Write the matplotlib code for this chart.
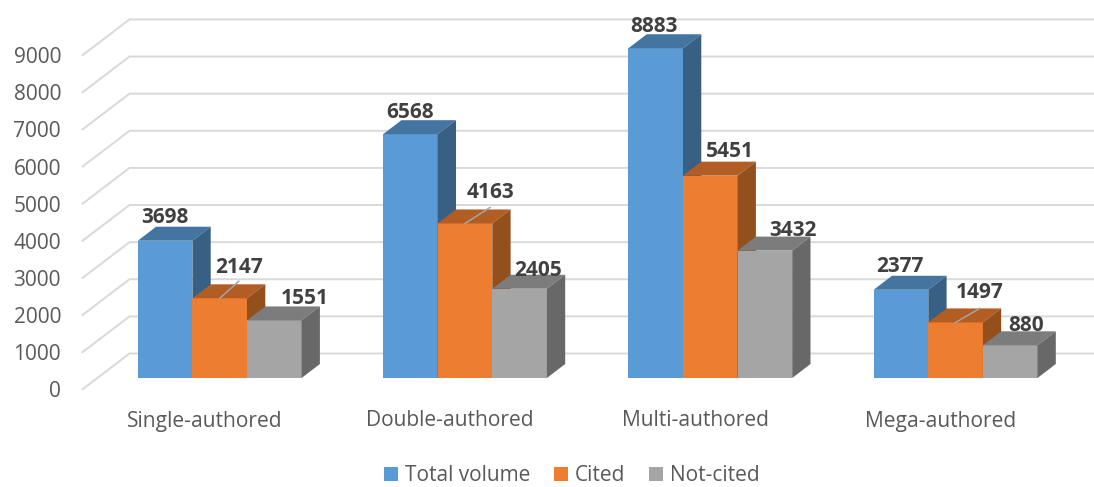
import matplotlib
matplotlib.use("Agg")
import matplotlib.pyplot as plt

categories = ["Single-authored", "Double-authored", "Multi-authored", "Mega-authored"]
total_volume = [3698, 6568, 8883, 2377]
cited = [2147, 4163, 5451, 1497]
not_cited = [1551, 2405, 3432, 880]
series_names = ["Total volume", "Cited", "Not-cited"]
y_ticks = [0, 1000, 2000, 3000, 4000, 5000, 6000, 7000, 8000, 9000]

# front, top, side shades for each series
front_colors = ["#5B9BD5", "#ED7D31", "#A5A5A5"]
top_colors = ["#4474A0", "#B25D24", "#7C7C7C"]
side_colors = ["#386084", "#934F1C", "#686868"]

# label offsets from the top of the bar front, in pixels
label_dx = [[0, 0, -2, -1], [19, 25, 20, 24], [30, 18, 28, 16]]
label_dy = [[23, 22, 22, 23], [31, 31, 24, 30], [22, 18, 20, 20]]
leader_dy = [17, 16, 0, 14]

plt.rcParams['font.family'] = ['Open Sans', 'DejaVu Sans']

PX_X = 245.3
PX_Y = 0.03712
fig = plt.figure(figsize=(10.94, 4.87), dpi=100)
ax = fig.add_axes([0, 0, 1, 1])
ax.set_xlim((0 - 219.7) / PX_X, (1094 - 219.7) / PX_X)
ax.set_ylim((378 - 487) / PX_Y, 378 / PX_Y)
ax.axis('off')

bar_w = 54.6 / PX_X
depth_x = 18.3 / PX_X
depth_y = 14 / PX_Y
wall_x = 47 / PX_X
x_left = (82.5 - 219.7) / PX_X
x_back = x_left + wall_x
x_right = (1094 - 219.7) / PX_X
front_y = -11.3 / PX_Y

# back wall and side wall gridlines
for t in y_ticks:
    ax.plot([x_left, x_back, x_right], [t + front_y, t + front_y + 35.8 / PX_Y, t + front_y + 35.8 / PX_Y],
            color="#D9D9D9", lw=1.4, zorder=1, solid_joinstyle='miter')
    ax.text((61 - 219.7) / PX_X, t + front_y - 2.5 / PX_Y, str(t), ha='right', va='center',
            color="#595959", fontsize=15)

handles = []
for s, values in enumerate([total_volume, cited, not_cited]):
    xs = [c + (s - 1) * bar_w for c in range(len(categories))]
    bars = ax.bar(xs, values, width=bar_w, color=front_colors[s], label=series_names[s], zorder=3 + s)
    handles.append(bars)
    for x, v in zip(xs, values):
        l = x - bar_w / 2
        r = x + bar_w / 2
        ax.fill([l, r, r + depth_x, l + depth_x], [v, v, v + depth_y, v + depth_y],
                color=top_colors[s], lw=0, zorder=3 + s)
        ax.fill([r, r + depth_x, r + depth_x, r], [0, depth_y, v + depth_y, v],
                color=side_colors[s], lw=0, zorder=3 + s)

# data labels, Cited has thin leader lines except the tallest bar
for s, values in enumerate([total_volume, cited, not_cited]):
    for c, v in enumerate(values):
        x = c + (s - 1) * bar_w
        ax.annotate(str(v), (x, v), xytext=(label_dx[s][c], label_dy[s][c]), textcoords='offset pixels',
                    ha='center', va='center', fontsize=15, fontweight='bold', color="#404040", zorder=10)
        if s == 1 and c != 2:
            ax.plot([x, x + label_dx[s][c] / PX_X], [v, v + leader_dy[c] / PX_Y], color="#A5A5A5", lw=1.1, zorder=9)

for c, name in enumerate(categories):
    ax.text(c - 15 / PX_X, -43 / PX_Y, name, ha='center', va='center', color="#595959", fontsize=15.1)

ax.legend(handles=handles, loc='center', bbox_to_anchor=(572 / 1094, 1 - 475.5 / 487), ncol=3, frameon=False,
          fontsize=15, labelcolor="#595959", handlelength=0.65, handleheight=0.65, handletextpad=0.35,
          columnspacing=1.15, borderpad=0)

plt.savefig("out.png", dpi=100)
